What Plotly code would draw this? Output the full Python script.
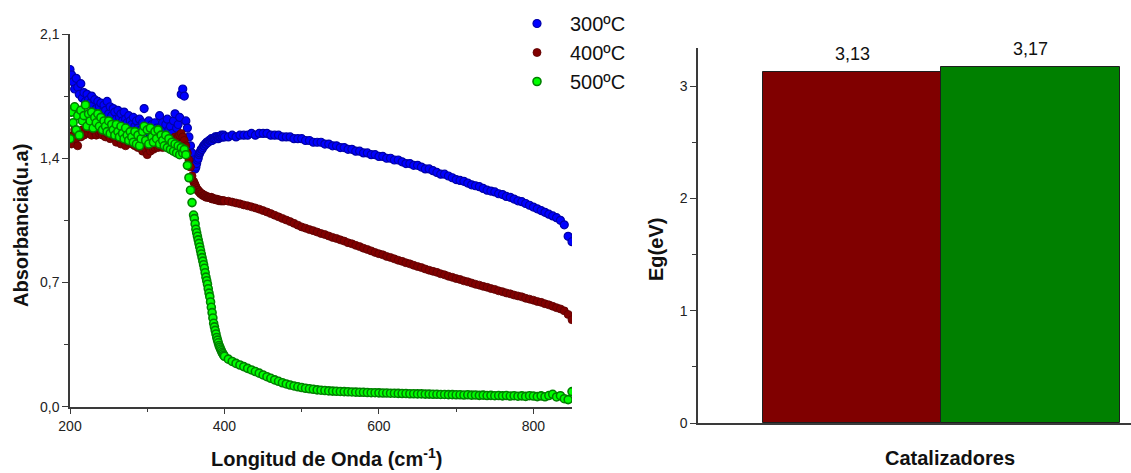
import plotly.graph_objects as go

# ---------------- data ----------------
wavelength = [
    200, 202, 204, 206, 208, 210, 212, 214, 216, 218, 220, 222, 224, 226, 228, 230, 232, 234, 236, 238,
    240, 242, 244, 246, 248, 250, 252, 254, 256, 258, 260, 262, 264, 266, 268, 270, 272, 274, 276, 278,
    280, 282, 284, 286, 288, 290, 292, 294, 296, 298, 300, 302, 304, 306, 308, 310, 312, 314, 316, 318,
    320, 322, 324, 326, 328, 330, 332, 334, 336, 338, 340, 342, 344, 346, 348, 350, 352, 354, 356, 358, 360,
    361, 362, 363, 364, 365, 366, 367, 368, 369, 370, 371, 372, 373, 374, 375, 376, 377, 378, 379, 380,
    381, 382, 383, 384, 385, 386, 387, 388, 389, 390, 391, 392, 393, 394, 395, 396, 397, 398, 399, 400,
    405, 410, 415, 420, 425, 430, 435, 440, 445, 450,
    455, 460, 465, 470, 475, 480, 485, 490, 495, 500,
    505, 510, 515, 520, 525, 530, 535, 540, 545, 550,
    555, 560, 565, 570, 575, 580, 585, 590, 595, 600,
    605, 610, 615, 620, 625, 630, 635, 640, 645, 650,
    655, 660, 665, 670, 675, 680, 685, 690, 695, 700,
    705, 710, 715, 720, 725, 730, 735, 740, 745, 750,
    755, 760, 765, 770, 775, 780, 785, 790, 795, 800,
    805, 810, 815, 820, 825, 830, 835, 840, 845, 850,
]

abs_300 = [
    1.90, 1.87, 1.83, 1.79, 1.85, 1.80, 1.76, 1.82, 1.74, 1.77, 1.72, 1.76, 1.73, 1.71, 1.75, 1.70, 1.73, 1.68, 1.72, 1.69,
    1.71, 1.66, 1.70, 1.67, 1.72, 1.65, 1.69, 1.64, 1.68, 1.66, 1.62, 1.67, 1.63, 1.65, 1.61, 1.66, 1.62, 1.60, 1.64, 1.61,
    1.59, 1.63, 1.58, 1.61, 1.57, 1.62, 1.56, 1.60, 1.68, 1.58, 1.55, 1.61, 1.57, 1.59, 1.54, 1.60, 1.57, 1.56, 1.64, 1.58,
    1.60, 1.55, 1.59, 1.62, 1.56, 1.58, 1.54, 1.61, 1.65, 1.57, 1.59, 1.63, 1.76, 1.79, 1.75, 1.61, 1.57, 1.52, 1.47, 1.43, 1.39,
    1.36, 1.34, 1.35, 1.37, 1.39, 1.40, 1.42, 1.43, 1.44, 1.45, 1.45, 1.46, 1.47, 1.47, 1.48, 1.48, 1.49, 1.49, 1.49, 1.50,
    1.50, 1.50, 1.51, 1.50, 1.51, 1.51, 1.51, 1.52, 1.51, 1.52, 1.52, 1.51, 1.52, 1.52, 1.52, 1.53, 1.52, 1.52, 1.53, 1.52,
    1.52, 1.53, 1.52, 1.53, 1.53, 1.53, 1.54, 1.53, 1.54, 1.54,
    1.54, 1.53, 1.53, 1.53, 1.52, 1.52, 1.52, 1.51, 1.51, 1.51,
    1.50, 1.50, 1.49, 1.49, 1.49, 1.48, 1.48, 1.47, 1.47, 1.46,
    1.46, 1.45, 1.45, 1.44, 1.44, 1.43, 1.43, 1.42, 1.42, 1.41,
    1.41, 1.40, 1.40, 1.39, 1.39, 1.38, 1.37, 1.37, 1.36, 1.36,
    1.35, 1.34, 1.34, 1.33, 1.32, 1.31, 1.31, 1.30, 1.29, 1.28,
    1.275, 1.27, 1.26, 1.25, 1.245, 1.24, 1.23, 1.22, 1.215, 1.21,
    1.20, 1.195, 1.185, 1.18, 1.17, 1.16, 1.155, 1.145, 1.135, 1.125,
    1.115, 1.105, 1.095, 1.085, 1.075, 1.065, 1.05, 1.025, 0.96, 0.93,
]

abs_400 = [
    1.52, 1.48, 1.53, 1.56, 1.51, 1.47, 1.54, 1.52, 1.56, 1.53, 1.55, 1.57, 1.54, 1.56, 1.53, 1.57, 1.55, 1.53, 1.56, 1.54,
    1.55, 1.53, 1.56, 1.52, 1.54, 1.53, 1.51, 1.54, 1.52, 1.53, 1.49, 1.52, 1.51, 1.48, 1.51, 1.50, 1.47, 1.50, 1.49, 1.50,
    1.48, 1.49, 1.47, 1.48, 1.46, 1.47, 1.46, 1.44, 1.47, 1.45, 1.42, 1.46, 1.44, 1.47, 1.45, 1.46, 1.48, 1.46, 1.47, 1.48,
    1.46, 1.48, 1.47, 1.49, 1.48, 1.50, 1.49, 1.51, 1.52, 1.51, 1.52, 1.53, 1.54, 1.52, 1.50, 1.47, 1.43, 1.39, 1.35, 1.30, 1.27,
    1.26, 1.25, 1.24, 1.23, 1.22, 1.22, 1.21, 1.21, 1.20, 1.20, 1.20, 1.19, 1.19, 1.19, 1.19, 1.18, 1.185, 1.18, 1.18, 1.18,
    1.18, 1.175, 1.18, 1.17, 1.175, 1.17, 1.17, 1.17, 1.165, 1.17, 1.165, 1.165, 1.16, 1.165, 1.16, 1.16, 1.16, 1.16, 1.16, 1.16,
    1.158, 1.153, 1.148, 1.143, 1.137, 1.132, 1.126, 1.120, 1.113, 1.105,
    1.097, 1.088, 1.079, 1.070, 1.061, 1.052, 1.043, 1.033, 1.023, 1.013,
    1.006, 0.998, 0.992, 0.984, 0.976, 0.970, 0.962, 0.954, 0.948, 0.940,
    0.933, 0.924, 0.918, 0.909, 0.902, 0.893, 0.886, 0.878, 0.869, 0.862,
    0.856, 0.847, 0.841, 0.833, 0.825, 0.819, 0.811, 0.805, 0.797, 0.790,
    0.784, 0.776, 0.769, 0.763, 0.757, 0.749, 0.743, 0.735, 0.729, 0.722,
    0.717, 0.709, 0.704, 0.697, 0.690, 0.685, 0.678, 0.673, 0.666, 0.661,
    0.653, 0.648, 0.641, 0.636, 0.629, 0.624, 0.619, 0.611, 0.606, 0.600,
    0.593, 0.588, 0.580, 0.574, 0.566, 0.558, 0.551, 0.540, 0.520, 0.490,
]

abs_500 = [
    1.51, 1.66, 1.60, 1.69, 1.56, 1.64, 1.53, 1.67, 1.61, 1.64, 1.70, 1.58, 1.65, 1.61, 1.66, 1.57, 1.63, 1.60, 1.65, 1.58,
    1.63, 1.56, 1.61, 1.58, 1.55, 1.61, 1.54, 1.59, 1.56, 1.53, 1.59, 1.55, 1.52, 1.58, 1.54, 1.51, 1.57, 1.53, 1.50, 1.55,
    1.52, 1.49, 1.55, 1.48, 1.53, 1.47, 1.51, 1.55, 1.58, 1.50, 1.56, 1.48, 1.57, 1.52, 1.49, 1.55, 1.51, 1.56, 1.48, 1.53,
    1.50, 1.47, 1.53, 1.46, 1.51, 1.45, 1.49, 1.44, 1.48, 1.43, 1.47, 1.42, 1.46, 1.43, 1.45, 1.42, 1.36, 1.29, 1.22, 1.15, 1.08,
    1.06, 1.03, 1.00, 0.98, 0.96, 0.94, 0.92, 0.90, 0.88, 0.86, 0.84, 0.82, 0.80, 0.78, 0.755, 0.73, 0.71, 0.69, 0.665, 0.64,
    0.62, 0.59, 0.56, 0.53, 0.50, 0.47, 0.45, 0.43, 0.41, 0.39, 0.375, 0.36, 0.345, 0.335, 0.325, 0.315, 0.305, 0.298, 0.29, 0.284,
    0.268, 0.255, 0.244, 0.235, 0.226, 0.216, 0.207, 0.198, 0.189, 0.179,
    0.169, 0.160, 0.151, 0.143, 0.135, 0.128, 0.122, 0.117, 0.112, 0.108,
    0.104, 0.101, 0.098, 0.095, 0.093, 0.091, 0.089, 0.088, 0.087, 0.086,
    0.085, 0.084, 0.083, 0.082, 0.081, 0.081, 0.080, 0.079, 0.079, 0.078,
    0.077, 0.077, 0.076, 0.076, 0.075, 0.074, 0.074, 0.073, 0.073, 0.072,
    0.072, 0.071, 0.071, 0.070, 0.070, 0.069, 0.069, 0.068, 0.068, 0.067,
    0.067, 0.066, 0.067, 0.065, 0.066, 0.064, 0.065, 0.063, 0.064, 0.062,
    0.063, 0.061, 0.063, 0.060, 0.062, 0.059, 0.061, 0.058, 0.062, 0.060,
    0.057, 0.061, 0.056, 0.063, 0.070, 0.055, 0.062, 0.045, 0.040, 0.085,
]

series_names = ["300ºC", "400ºC", "500ºC"]

catalysts = ["400ºC", "500ºC"]
band_gap = [3.13, 3.17]

# ---------------- styling ----------------
FONT = "Liberation Sans, Arial, sans-serif"
AX = "#3a3a3a"
W, H = 1131, 473

marker_styles = [
    dict(size=8, color="#0000ff", line=dict(color="#0000a8", width=1.2)),
    dict(size=8, color="#800000", line=dict(color="#5c0000", width=0.8)),
    dict(size=8, color="#00ff00", line=dict(color="#008000", width=1.6)),
]
bar_colors = ["#800000", "#008000"]

fig = go.Figure()
for name, ys, ms in zip(series_names, [abs_300, abs_400, abs_500], marker_styles):
    fig.add_trace(go.Scatter(x=wavelength, y=ys, mode="markers", name=name,
                             marker=ms, xaxis="x", yaxis="y"))

fig.add_trace(go.Bar(x=catalysts, y=band_gap, width=1, showlegend=False,
                     marker=dict(color=bar_colors, line=dict(color="#1e1e1e", width=1)),
                     xaxis="x2", yaxis="y2"))

for c, v in zip(catalysts, band_gap):
    fig.add_annotation(x=c, y=v, xref="x2", yref="y2", text=f"{v:.2f}".replace(".", ","),
                       showarrow=False, yanchor="middle", yshift=18,
                       font=dict(family=FONT, size=18, color="#111111"))

tick_font = dict(family=FONT, size=14, color="#222222")
common = dict(showline=True, linecolor=AX, linewidth=1.5, ticks="outside", ticklen=6,
              tickcolor=AX, tickwidth=1.2, tickfont=tick_font, showgrid=False,
              zeroline=False, automargin=False)

fig.update_layout(
    template="none",
    width=W, height=H, margin=dict(l=0, r=0, t=0, b=0, pad=0, autoexpand=False),
    paper_bgcolor="white", plot_bgcolor="white",
    separators=",.",
    font=dict(family=FONT, color="#111111"),
    bargap=0,
    xaxis=dict(domain=[70 / W, 572 / W], range=[200, 850], tick0=0, dtick=200,
               anchor="y", minor=dict(dtick=100, ticks="outside", ticklen=4, tickcolor=AX),
               **common),
    yaxis=dict(domain=[1 - 406.7 / H, 1 - 34 / H], range=[0, 2.1], tick0=0, dtick=0.7,
               tickformat=".1f", anchor="x",
               minor=dict(dtick=0.35, ticks="outside", ticklen=4, tickcolor=AX), **common),
    xaxis2=dict(domain=[698 / W, 1.0], type="category", range=[-0.864, 1.562],
                anchor="y2", showline=True, linecolor=AX, linewidth=1.5, ticks="",
                showticklabels=False, showgrid=False, zeroline=False, automargin=False),
    yaxis2=dict(domain=[1 - 423 / H, 1 - 48 / H], range=[0, 3.34], tick0=0, dtick=1,
                anchor="x2", minor=dict(dtick=0.5, ticks="outside", ticklen=4, tickcolor=AX),
                **common),
    legend=dict(x=504 / W, y=1 - 4 / H, xanchor="left", yanchor="top", itemwidth=56,
                font=dict(family=FONT, size=20, color="#111111"),
                bgcolor="rgba(0,0,0,0)", borderwidth=0, tracegroupgap=0),
)

title_font = dict(family=FONT, size=20, color="#111111")
fig.add_annotation(x=21 / W, y=1 - 226 / H, xref="paper", yref="paper",
                   text="<b>Absorbancia(u.a)</b>", textangle=-90, showarrow=False,
                   xanchor="center", yanchor="middle", font=title_font)
fig.add_annotation(x=326 / W, y=0, xref="paper", yref="paper",
                   text="<b>Longitud de Onda (cm<sup>-1</sup>)</b>", showarrow=False,
                   xanchor="center", yanchor="bottom", yshift=1, font=title_font)
fig.add_annotation(x=656 / W, y=1 - 249 / H, xref="paper", yref="paper",
                   text="<b>Eg(eV)</b>", textangle=-90, showarrow=False,
                   xanchor="center", yanchor="middle", font=title_font)
fig.add_annotation(x=950 / W, y=1 - 458 / H, xref="paper", yref="paper",
                   text="<b>Catalizadores</b>", showarrow=False,
                   xanchor="center", yanchor="middle", font=title_font)

fig.write_html("out.html", config={"displayModeBar": False},
               post_script="document.body.style.margin='0';document.body.style.padding='0';")
